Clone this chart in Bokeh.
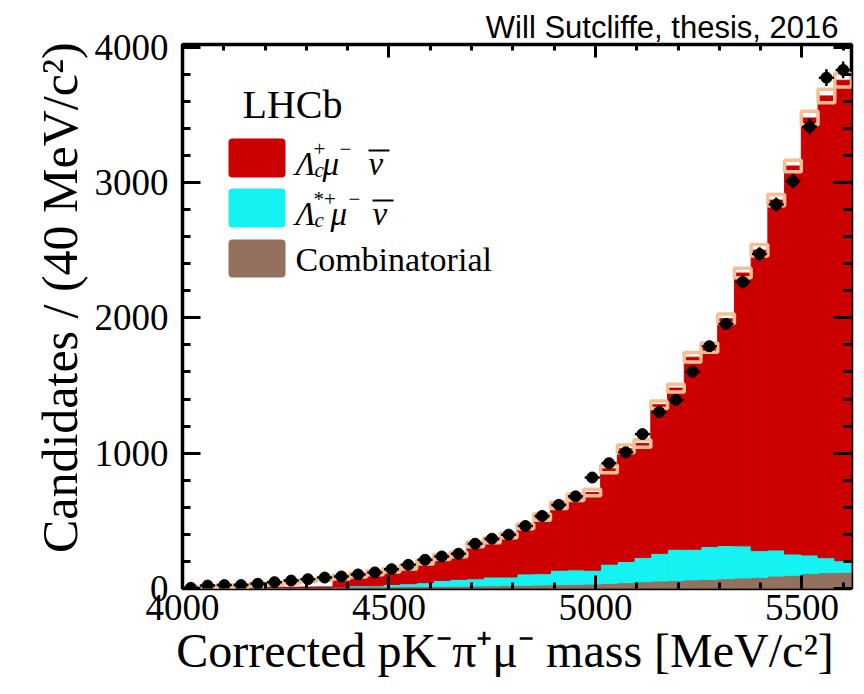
import numpy as np
from bokeh.plotting import figure
from bokeh.models import Label, LinearAxis, SingleIntervalTicker, Range1d
from bokeh.embed import file_html
from bokeh.resources import INLINE

# ---------------- data ----------------
bin_low = 4000.0
bin_width = 40.5          # 40 bins spanning 4000-5620 MeV/c^2
x_limits = (4000, 5620)
y_limits = (0, 4020)

data_counts = [5, 22, 25, 25, 35, 47, 59, 69, 81, 89,
               104, 119, 143, 175, 212, 237, 257, 331, 368, 398,
               462, 536, 618, 681, 820, 926, 1006, 1141, 1304, 1393,
               1602, 1790, 1955, 2265, 2472, 2837, 3010, 3413, 3775, 3832]

fit_total = [4, 10, 15, 20, 27, 37, 47, 58, 70, 84,
             99, 116, 136, 158, 195, 232, 252, 326, 356, 393,
             459, 528, 615, 674, 709, 884, 1032, 1072, 1358, 1481,
             1709, 1780, 1993, 2331, 2500, 2870, 3122, 3477, 3640, 3756]

fit_err = [8, 8, 8, 8, 8, 8, 8, 8, 8, 14,
           14, 14, 14, 14, 14, 18, 18, 18, 18, 18,
           18, 24, 24, 24, 24, 28, 28, 28, 28, 28,
           35, 35, 35, 35, 42, 42, 42, 50, 50, 50]

lc_signal = [0, 0, 0, 0, 0, 0, 0, 0, 0, 55,
             79, 96, 106, 122, 152, 172, 184, 254, 271, 308,
             351, 418, 480, 536, 574, 704, 832, 842, 1098, 1191,
             1419, 1470, 1675, 2016, 2220, 2585, 2867, 3229, 3412, 3551]

lcstar_signal = [0, 0, 0, 0, 0, 0, 0, 0, 0, 0,
                 9, 8, 17, 22, 28, 44, 51, 53, 65, 63,
                 84, 84, 107, 108, 102, 142, 157, 180, 205, 232,
                 226, 242, 246, 237, 198, 193, 157, 138, 111, 85]

combinatorial = [1, 2, 3, 4, 5, 6, 7, 8, 9, 10,
                 11, 12, 13, 14, 15, 16, 17, 19, 20, 22,
                 24, 26, 28, 30, 33, 38, 43, 50, 55, 58,
                 64, 68, 72, 78, 82, 92, 98, 110, 117, 120]

x_major, x_minor_n = 500, 5
y_major, y_minor_n = 1000, 5

x_title = "Corrected pK\u207b\u03c0\u207a\u03bc\u207b mass [MeV/c\u00b2]"
y_title = "Candidates / (40 MeV/c\u00b2)"
note = "Will Sutcliffe, thesis, 2016"

RED = "#CC0000"
CYAN = "#14F2F2"
BROWN = "#94705F"
PEACH = "#F7BE95"

# ---------------- geometry ----------------
W, H = 864, 694
FL, FR, FT, FB = 182, 851, 44, 588


def X(px):
    return x_limits[0] + (px - FL) * (x_limits[1] - x_limits[0]) / (FR - FL)


def Y(py):
    return y_limits[0] + (FB - py) * (y_limits[1] - y_limits[0]) / (FB - FT)


n = len(data_counts)
left = bin_low + bin_width * np.arange(n)
right = left + bin_width
center = left + bin_width / 2
data = np.array(data_counts, float)
fit = np.array(fit_total, float)
err = np.array(fit_err, float)
comb = np.array(combinatorial, float)
cyan = np.array(lcstar_signal, float)
red = np.array(lc_signal, float)

p = figure(width=W, height=H, output_backend="svg", toolbar_location=None,
           x_range=Range1d(*x_limits), y_range=Range1d(*y_limits),
           min_border_left=FL, min_border_right=W - FR,
           min_border_top=FT, min_border_bottom=H - FB)
p.xgrid.visible = False
p.ygrid.visible = False
p.background_fill_color = "white"
p.border_fill_color = "white"
p.outline_line_color = "black"
p.outline_line_width = 3.5

SERIF = "Liberation Serif"


def style_axis(ax, ticker, major_in, minor_in, labels=True):
    ax.ticker = ticker
    ax.axis_line_color = None
    ax.major_tick_in = major_in
    ax.major_tick_out = 0
    ax.minor_tick_in = minor_in
    ax.minor_tick_out = 0
    ax.major_tick_line_width = 3
    ax.minor_tick_line_width = 3
    ax.major_tick_line_color = "black"
    ax.minor_tick_line_color = "black"
    if labels:
        ax.major_label_text_font = SERIF
        ax.major_label_text_font_size = "37px"
        ax.major_label_text_color = "black"
        ax.axis_label_text_font = SERIF
        ax.axis_label_text_font_style = "normal"
        ax.axis_label_text_color = "black"
    else:
        ax.major_label_text_font_size = "1px"
        ax.major_label_text_color = None
        ax.major_label_standoff = 0


xa = p.xaxis[0]
style_axis(xa, SingleIntervalTicker(interval=x_major, num_minor_ticks=x_minor_n), 13, 6)
xa.major_label_standoff = 6
xa.axis_label = x_title + "\u00a0\u00a0"
xa.axis_label_text_font_size = "48px"
xa.axis_label_standoff = 1

ya = p.yaxis[0]
style_axis(ya, SingleIntervalTicker(interval=y_major, num_minor_ticks=y_minor_n), 18, 8)
ya.major_label_standoff = 14
ya.axis_label = "\u00a0\u00a0\u00a0" + y_title
ya.axis_label_text_font_size = "50px"
ya.axis_label_standoff = 4

top_ax = LinearAxis()
style_axis(top_ax, SingleIntervalTicker(interval=x_major, num_minor_ticks=x_minor_n), 13, 6, labels=False)
p.add_layout(top_ax, "above")
right_ax = LinearAxis()
style_axis(right_ax, SingleIntervalTicker(interval=y_major, num_minor_ticks=y_minor_n), 18, 8, labels=False)
p.add_layout(right_ax, "right")

p.title.text = note
p.title.align = "right"
p.title.text_font = "Liberation Sans"
p.title.text_font_style = "normal"
p.title.text_font_size = "31px"
p.title.text_color = "black"
p.title.standoff = 0
p.title.offset = 13

# ---------------- stacked fit components ----------------
b1 = comb
b2 = comb + cyan
b3 = b2 + red
p.quad(left=left, right=right, bottom=0, top=b1, fill_color=BROWN, line_color=BROWN, line_width=1)
p.quad(left=left, right=right, bottom=b1, top=b2, fill_color=CYAN, line_color=CYAN, line_width=1)
p.quad(left=left, right=right, bottom=b2, top=b3, fill_color=RED, line_color=RED, line_width=1)

# fit uncertainty boxes
p.quad(left=left, right=right, bottom=fit - err, top=fit + err,
       fill_color=None, line_color=PEACH, line_width=3.5)

# data points with errors
yerr = np.sqrt(data)
hw = bin_width * 0.45
p.segment(x0=center - hw, y0=data, x1=center + hw, y1=data, line_color="black", line_width=2.5)
p.segment(x0=center, y0=data - yerr, x1=center, y1=data + yerr, line_color="black", line_width=2.5)
p.scatter(center, data, size=11, color="black")


# ---------------- legend (inside the frame) ----------------
def label(px, py, text, size, style="normal", font=SERIF, align="left"):
    p.add_layout(Label(x=X(px), y=Y(py), text=text, text_font=font,
                       text_font_size=f"{size}px", text_font_style=style,
                       text_color="black", text_align=align,
                       text_baseline="alphabetic"))


label(242, 104, "LHCb", 40)
sw_left, sw_right = X(228), X(285)
p.quad(left=[sw_left] * 3, right=[sw_right] * 3,
       bottom=[Y(177), Y(227), Y(277)], top=[Y(138), Y(188), Y(239)],
       fill_color=[RED, CYAN, BROWN], line_color=None, border_radius=4)

for base, star, mu_x, minus_x, nu_x in ((163, "+", 322, 339, 368), (213, "*+", 330, 348, 372)):
    label(295, base, "\u039b", 33, "italic")
    label(314, base + 6, "c", 21, "italic")
    label(313, base - 15, star, 21)
    label(mu_x, base, "\u03bc", 33, "italic")
    label(minus_x, base - 15, "\u2212", 21)
    label(nu_x, base, "\u03bd", 33, "italic")
    p.segment(x0=[X(nu_x)], y0=[Y(base - 13)], x1=[X(nu_x + 21)], y1=[Y(base - 13)],
              line_color="black", line_width=2.2)

label(295, 259, "Combinatorial", 34)

open("out.html", "w").write(file_html(p, INLINE))
